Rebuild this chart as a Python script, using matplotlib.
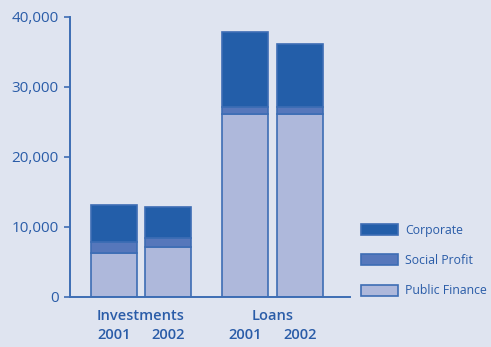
import matplotlib.pyplot as plt
from matplotlib.patches import Patch

# Portfolio by segment, in thousands
groups = ['Investments', 'Loans']
years = ['2001', '2002', '2001', '2002']
public_finance = [6300, 7100, 26100, 26100]
social_profit = [1600, 1400, 1100, 1100]
corporate = [5200, 4400, 10700, 8900]

bg = '#dfe4f0'
text_col = '#2a5ca8'
edge_col = '#3d6db4'
colors = {'Corporate': '#235ea9', 'Social Profit': '#5677bb', 'Public Finance': '#aeb8db'}

plt.rcParams['font.family'] = ['Open Sans', 'DejaVu Sans']

fig = plt.figure(figsize=(4.91, 3.47), dpi=100, facecolor=bg)
ax = fig.add_axes([70 / 491, 1 - 297 / 347, 280 / 491, 280 / 347])
ax.set_facecolor(bg)

x = [0, 1, 2.42, 3.44]
w = 0.85
bottom2 = [a + b for a, b in zip(public_finance, social_profit)]
ax.bar(x, public_finance, w, color=colors['Public Finance'], edgecolor=edge_col, linewidth=1.2)
ax.bar(x, social_profit, w, bottom=public_finance, color=colors['Social Profit'], edgecolor=edge_col, linewidth=1.2)
ax.bar(x, corporate, w, bottom=bottom2, color=colors['Corporate'], edgecolor=edge_col, linewidth=1.2)

ax.set_xlim(-0.815, 4.37)
ax.set_ylim(0, 40000)
ax.set_yticks(range(0, 40001, 10000))
ax.set_yticklabels([f'{v:,}' for v in range(0, 40001, 10000)], fontsize=11, color=text_col)
ax.tick_params(axis='y', length=4, width=1.2, color=edge_col, pad=4)
ax.set_xticks(x)
ax.set_xticklabels(years, fontsize=10.5, color=text_col, fontweight='semibold')
ax.tick_params(axis='x', length=0, pad=22)

for s in ['top', 'right']:
    ax.spines[s].set_visible(False)
for s in ['left', 'bottom']:
    ax.spines[s].set_color(edge_col)
    ax.spines[s].set_linewidth(1.4)

# group names above the year labels
ax.text((x[0] + x[1]) / 2, -2700, groups[0], ha='center', va='center',
        fontsize=10.5, color=text_col, fontweight='semibold')
ax.text((x[2] + x[3]) / 2, -2700, groups[1], ha='center', va='center',
        fontsize=10.5, color=text_col, fontweight='semibold')

handles = [Patch(facecolor=colors[k], edgecolor=edge_col, linewidth=1.2, label=k)
           for k in ['Corporate', 'Social Profit', 'Public Finance']]
fig.legend(handles=handles, loc='upper left', bbox_to_anchor=(350 / 491, 1 - 213 / 347),
           frameon=False, fontsize=8.8, labelcolor=text_col, handlelength=3.0,
           handleheight=1.0, labelspacing=1.4, handletextpad=0.6)

fig.savefig('out.png', dpi=100, facecolor=bg)
